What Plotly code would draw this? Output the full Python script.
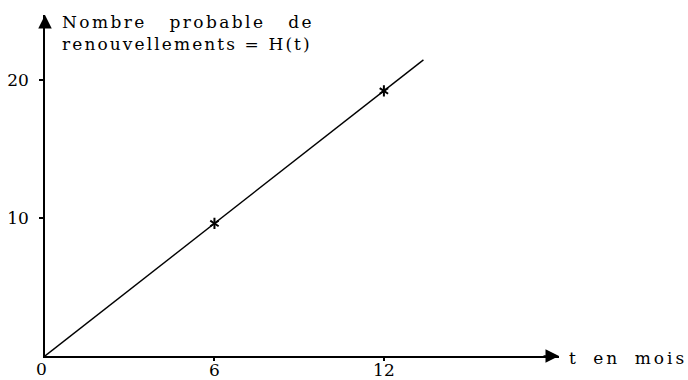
import plotly.graph_objects as go

# Expected number of renewals H(t) against time t (months)
t_points = [6, 12]
h_points = [9.6, 19.2]

# Straight line H(t) through the origin
t_line = [0, 13.4]
h_line = [0, 21.45]

x_ticks = [6, 12]
x_tick_text = ["6", "12"]
y_ticks = [10, 20]
y_tick_text = ["10", "20"]

x_max = 18.2
y_max = 24.7

FONT = "DejaVu Serif"
INK = "black"

fig = go.Figure()

fig.add_trace(go.Scatter(
    x=t_line, y=h_line, mode="lines",
    line=dict(color=INK, width=1.4),
    cliponaxis=False, hoverinfo="skip", showlegend=False,
))

# six-spoke asterisk made from two overlapping Y markers
for sym in ("y-up-open", "y-down-open"):
    fig.add_trace(go.Scatter(
        x=t_points, y=h_points, mode="markers",
        marker=dict(symbol=sym, size=7, color=INK, line=dict(color=INK, width=2)),
        cliponaxis=False, hoverinfo="skip", showlegend=False,
    ))

annotations = [
    # arrow heads on both axes
    dict(x=x_max, y=0, ax=x_max - 0.6, ay=0, xref="x", yref="y",
         axref="x", ayref="y", text="", showarrow=True,
         arrowhead=2, arrowsize=1.8, arrowwidth=1.5, arrowcolor=INK, standoff=0),
    dict(x=0, y=y_max, ax=0, ay=y_max - 1.0, xref="x", yref="y",
         axref="x", ayref="y", text="", showarrow=True,
         arrowhead=2, arrowsize=1.8, arrowwidth=1.5, arrowcolor=INK, standoff=0),
    # origin label
    dict(x=0, y=0, xref="x", yref="y", text="0", showarrow=False,
         xanchor="center", yanchor="top", xshift=-4, yshift=-1,
         font=dict(family=FONT, size=17, color=INK)),
    # axis titles
    dict(x=0.029, y=1.014, xref="paper", yref="paper",
         text='<span style="letter-spacing:2.4px;word-spacing:15px">Nombre probable de</span><br>'
              '<span style="letter-spacing:2.1px">renouvellements = H(t)</span>',
         showarrow=False, xanchor="left", yanchor="top", align="left",
         font=dict(family=FONT, size=17, color=INK)),
    dict(x=x_max, y=0, xref="x", yref="y",
         text='<span style="letter-spacing:3px;word-spacing:6px">t en mois</span>',
         showarrow=False, xanchor="left", yanchor="middle", xshift=8, yshift=-2,
         font=dict(family=FONT, size=17, color=INK)),
]

fig.update_layout(
    width=688, height=380,
    margin=dict(l=45, r=129, t=15, b=24, autoexpand=False),
    paper_bgcolor="white", plot_bgcolor="white",
    annotations=annotations,
    xaxis=dict(
        range=[0, x_max], showgrid=False, zeroline=False, automargin=False,
        showline=True, linecolor=INK, linewidth=1.5,
        tickmode="array", tickvals=x_ticks, ticktext=x_tick_text,
        ticks="outside", ticklen=3, tickwidth=1.5, tickcolor=INK,
        ticklabelstandoff=-5,
        tickfont=dict(family=FONT, size=17, color=INK),
        fixedrange=True,
    ),
    yaxis=dict(
        range=[0, y_max], showgrid=False, zeroline=False, automargin=False,
        showline=True, linecolor=INK, linewidth=1.5,
        tickmode="array", tickvals=y_ticks, ticktext=y_tick_text,
        ticks="outside", ticklen=4, tickwidth=1.5, tickcolor=INK,
        ticklabelstandoff=7,
        tickfont=dict(family=FONT, size=17, color=INK),
        fixedrange=True,
    ),
)

fig.write_html("out.html")
